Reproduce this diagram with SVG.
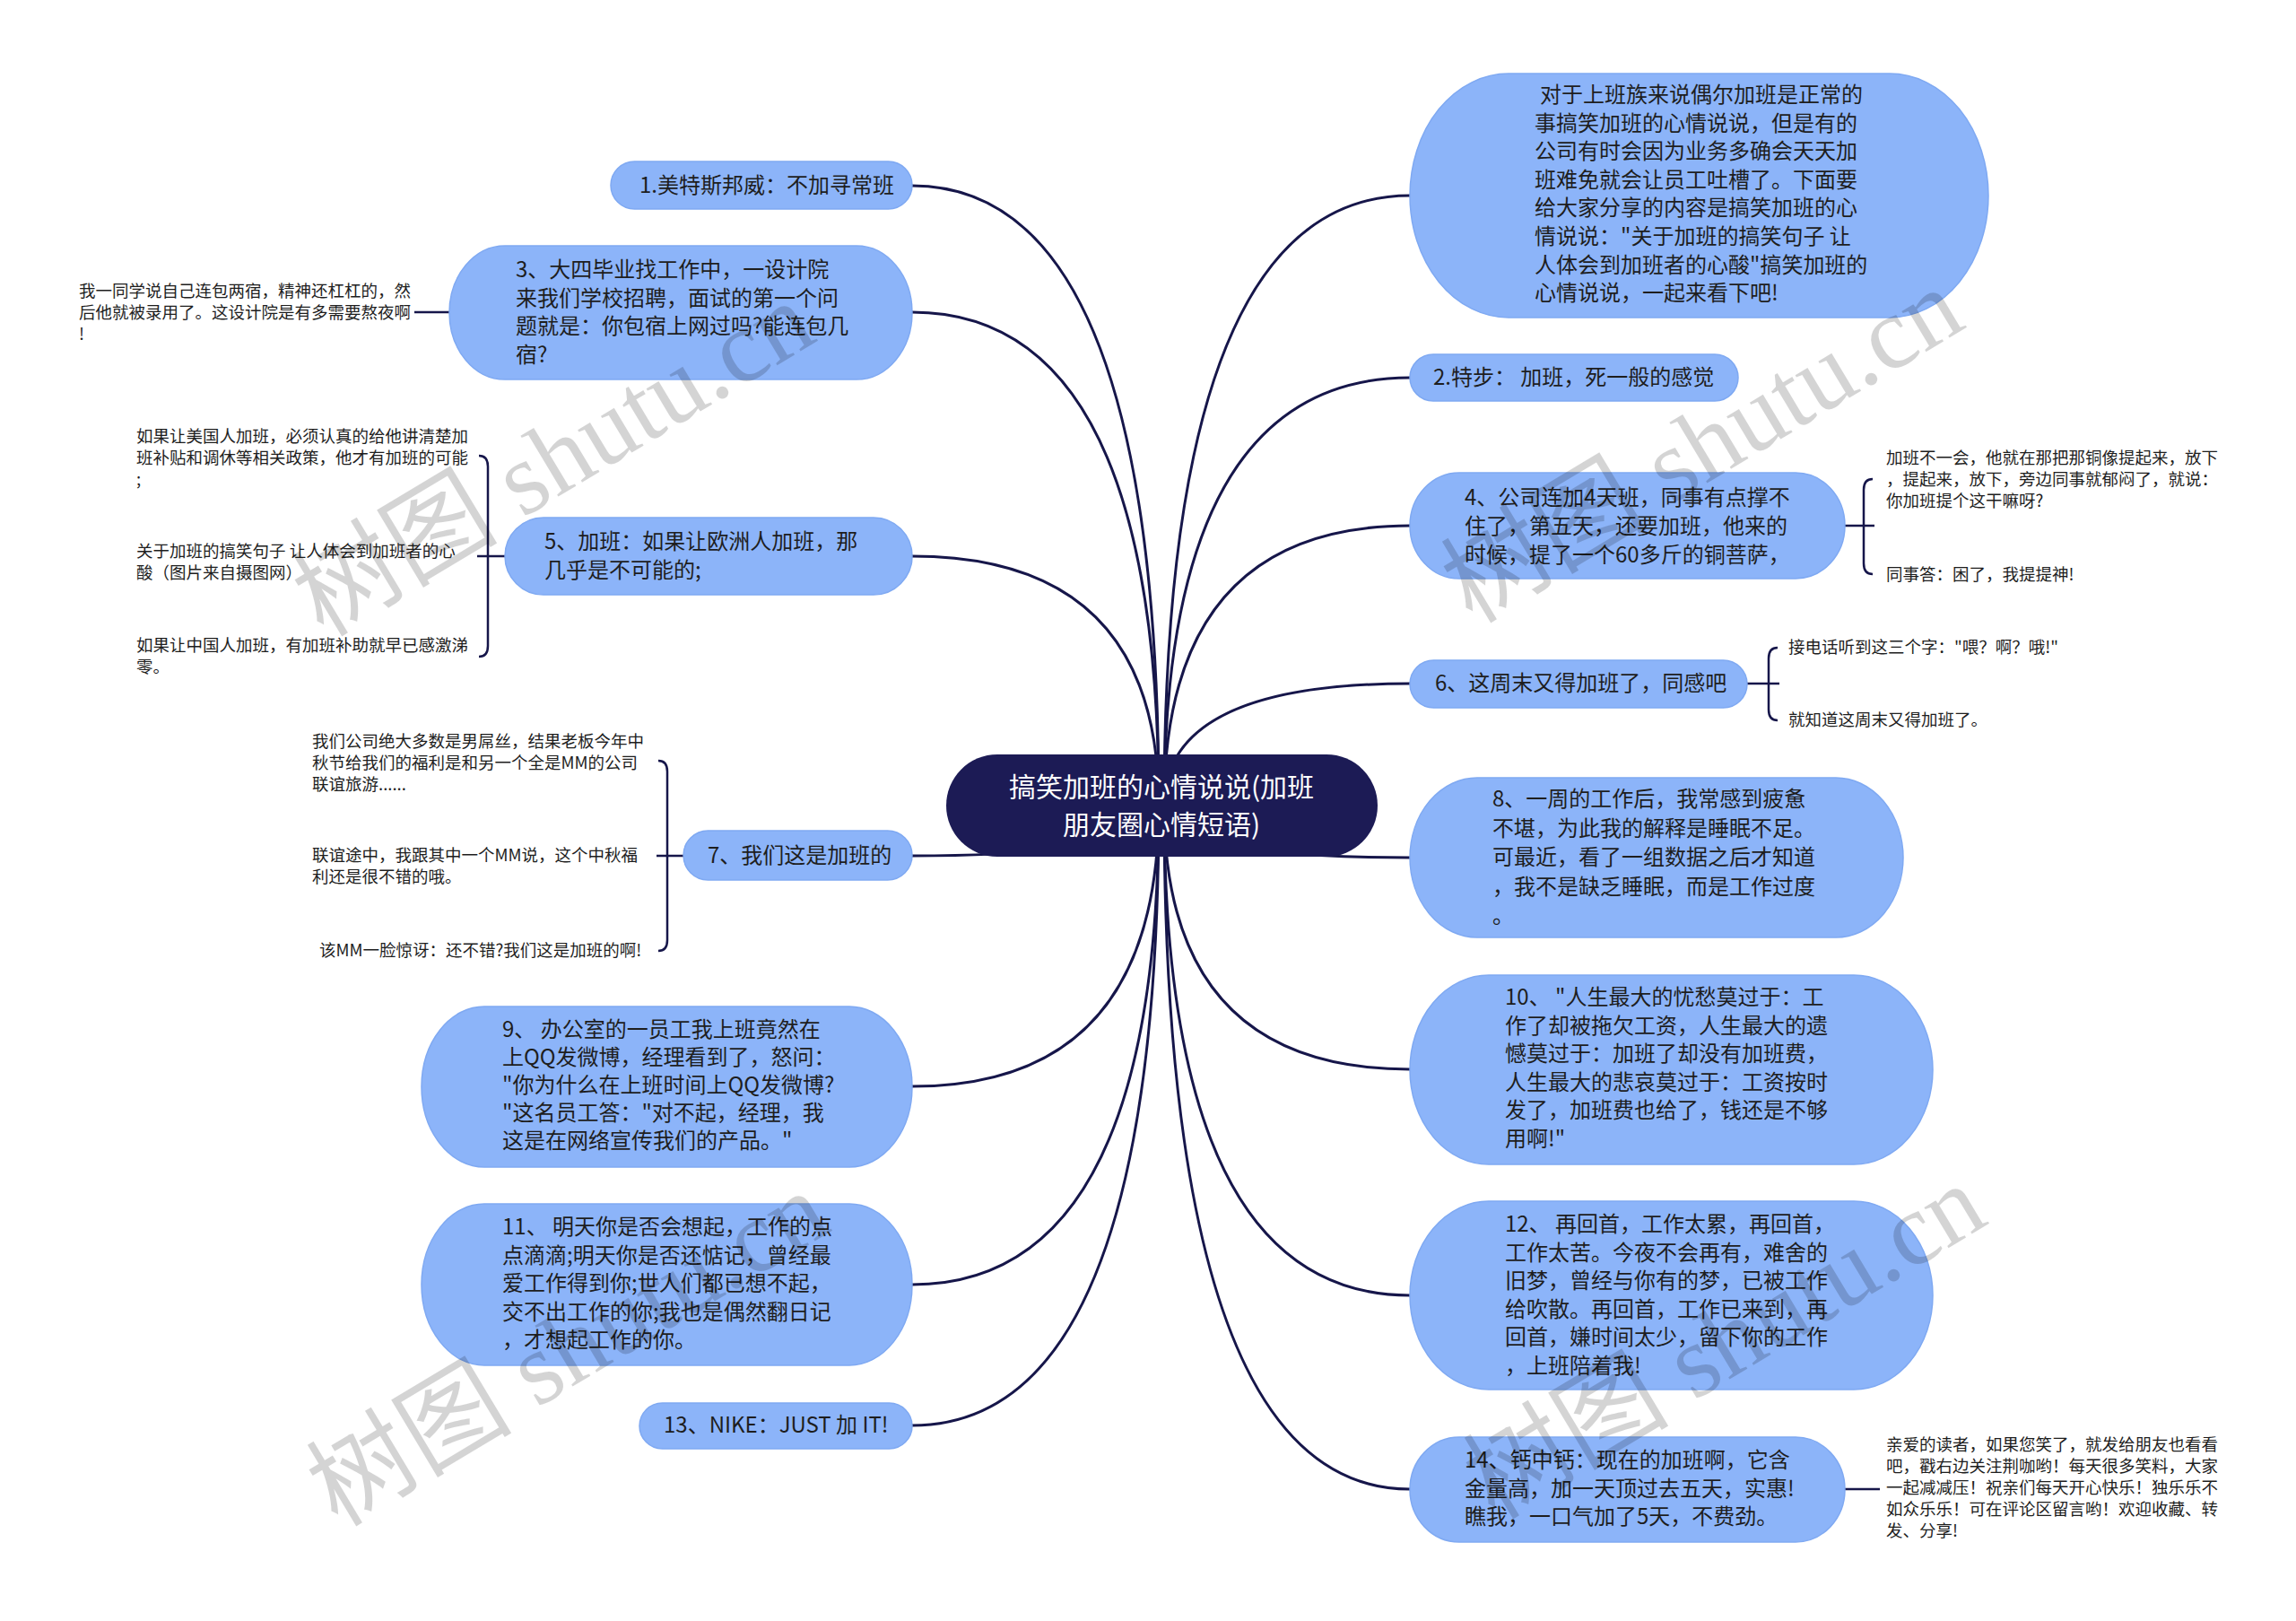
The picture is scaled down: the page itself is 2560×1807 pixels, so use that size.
<svg xmlns="http://www.w3.org/2000/svg" width="2560" height="1807" viewBox="0 0 2560 1807">
<style>
.bg{fill:#ffffff}
.node{fill:#8cb4f9;stroke:#7fa9f2;stroke-width:1.5}
.root{fill:#1c1b55}
.t{font-family:"Noto Sans CJK SC","Noto Sans",sans-serif;font-size:24px;fill:#1e1e1e}
.rt{font-family:"Noto Sans CJK SC","Noto Sans",sans-serif;font-size:30px;fill:#ffffff;text-anchor:middle}
.l{font-family:"Noto Sans CJK SC","Noto Sans",sans-serif;font-size:18.5px;fill:#1e1e1e}
.c{fill:none;stroke:#16164a;stroke-width:3}
.b{fill:none;stroke:#16164a;stroke-width:2.5}
.wm{font-family:"Liberation Serif","Noto Sans CJK SC",serif;font-size:115px;fill:#000000;fill-opacity:0.17}
</style>
<rect class="bg" x="0" y="0" width="2560" height="1807"/>

<g id="connectors">
<path class="c" d="M1292,898 Q1292,207 1017,207"/>
<path class="c" d="M1292,898 Q1292,348 1017,348"/>
<path class="c" d="M1292,898 Q1292,620 1017,620"/>
<path class="c" d="M1292,898 Q1292,954 1017,954"/>
<path class="c" d="M1292,898 Q1292,1211 1017,1211"/>
<path class="c" d="M1292,898 Q1292,1432 1017,1432"/>
<path class="c" d="M1292,898 Q1292,1589 1017,1589"/>
<path class="c" d="M1298,898 Q1298,218 1572,218"/>
<path class="c" d="M1298,898 Q1298,421 1572,421"/>
<path class="c" d="M1298,898 Q1298,586 1572,586"/>
<path class="c" d="M1298,898 Q1298,762 1572,762"/>
<path class="c" d="M1298,898 Q1298,956 1572,956"/>
<path class="c" d="M1298,898 Q1298,1192 1572,1192"/>
<path class="c" d="M1298,898 Q1298,1444 1572,1444"/>
<path class="c" d="M1298,898 Q1298,1660 1572,1660"/>
<!-- leaf connectors -->
<path class="b" d="M462,348 L501,348"/>
<path class="b" d="M534,508 Q544,508 544,520 L544,720 Q544,732 534,732"/>
<path class="b" d="M532,620 L563,620"/>
<path class="b" d="M734,848 Q744,848 744,860 L744,1048 Q744,1060 734,1060"/>
<path class="b" d="M732,954 L762,954"/>
<path class="b" d="M2088,534 Q2078,534 2078,546 L2078,628 Q2078,640 2088,640"/>
<path class="b" d="M2057,586 L2090,586"/>
<path class="b" d="M1982,722 Q1972,722 1972,734 L1972,791 Q1972,803 1982,803"/>
<path class="b" d="M1948,762 L1984,762"/>
<path class="b" d="M2057,1660 L2096,1660"/>
</g>

<g id="root">
<rect class="root" x="1055" y="841" width="481" height="114" rx="57" ry="57"/>
<text class="rt" x="1295" y="888">搞笑加班的心情说说(加班</text>
<text class="rt" x="1295" y="930">朋友圈心情短语)</text>
</g>

<g id="n1">
<rect class="node" x="681" y="180" width="336" height="53" rx="26.5"/>
<text class="t" x="713" y="215">1.美特斯邦威：不加寻常班</text>
</g>

<g id="n3">
<rect class="node" x="501" y="274" width="516" height="149" rx="62" ry="74.5"/>
<text class="t" x="575" y="309">3、大四毕业找工作中，一设计院</text>
<text class="t" x="575" y="340.6">来我们学校招聘，面试的第一个问</text>
<text class="t" x="575" y="372.2">题就是：你包宿上网过吗?能连包几</text>
<text class="t" x="575" y="403.8">宿?</text>
</g>
<g id="n3-leaf">
<text class="l" x="88" y="331">我一同学说自己连包两宿，精神还杠杠的，然</text>
<text class="l" x="88" y="355">后他就被录用了。这设计院是有多需要熬夜啊</text>
<text class="l" x="88" y="379">!</text>
</g>

<g id="n5">
<rect class="node" x="563" y="577" width="454" height="86" rx="43"/>
<text class="t" x="607" y="612">5、加班：如果让欧洲人加班，那</text>
<text class="t" x="607" y="643.6">几乎是不可能的;</text>
</g>
<g id="n5-leaves">
<text class="l" x="152" y="493">如果让美国人加班，必须认真的给他讲清楚加</text>
<text class="l" x="152" y="517">班补贴和调休等相关政策，他才有加班的可能</text>
<text class="l" x="152" y="541">;</text>
<text class="l" x="152" y="621">关于加班的搞笑句子 让人体会到加班者的心</text>
<text class="l" x="152" y="645">酸（图片来自摄图网）</text>
<text class="l" x="152" y="726">如果让中国人加班，有加班补助就早已感激涕</text>
<text class="l" x="152" y="750">零。</text>
</g>

<g id="n7">
<rect class="node" x="762" y="926" width="255" height="55" rx="27.5"/>
<text class="t" x="789" y="962">7、我们这是加班的</text>
</g>
<g id="n7-leaves">
<text class="l" x="348" y="833">我们公司绝大多数是男屌丝，结果老板今年中</text>
<text class="l" x="348" y="857">秋节给我们的福利是和另一个全是MM的公司</text>
<text class="l" x="348" y="881">联谊旅游......</text>
<text class="l" x="348" y="960">联谊途中，我跟其中一个MM说，这个中秋福</text>
<text class="l" x="348" y="984">利还是很不错的哦。</text>
<text class="l" x="356" y="1066">该MM一脸惊讶：还不错?我们这是加班的啊!</text>
</g>

<g id="n9">
<rect class="node" x="470" y="1122" width="547" height="179" rx="70" ry="89.5"/>
<text class="t" x="560" y="1156">9、 办公室的一员工我上班竟然在</text>
<text class="t" x="560" y="1187">上QQ发微博，经理看到了，怒问：</text>
<text class="t" x="560" y="1218">"你为什么在上班时间上QQ发微博?</text>
<text class="t" x="560" y="1249">"这名员工答："对不起，经理，我</text>
<text class="t" x="560" y="1280">这是在网络宣传我们的产品。"</text>
</g>

<g id="n11">
<rect class="node" x="470" y="1342" width="547" height="180" rx="70" ry="90"/>
<text class="t" x="560" y="1376">11、 明天你是否会想起，工作的点</text>
<text class="t" x="560" y="1407.5">点滴滴;明天你是否还惦记，曾经最</text>
<text class="t" x="560" y="1439">爱工作得到你;世人们都已想不起，</text>
<text class="t" x="560" y="1470.5">交不出工作的你;我也是偶然翻日记</text>
<text class="t" x="560" y="1502">，才想起工作的你。</text>
</g>

<g id="n13">
<rect class="node" x="713" y="1564" width="304" height="51" rx="25.5"/>
<text class="t" x="740" y="1597">13、NIKE：JUST 加 IT!</text>
</g>

<g id="ntop">
<rect class="node" x="1572" y="82" width="645" height="272" rx="110" ry="136"/>
<text class="t" x="1717" y="114">对于上班族来说偶尔加班是正常的</text>
<text class="t" x="1711" y="145.6">事搞笑加班的心情说说，但是有的</text>
<text class="t" x="1711" y="177.2">公司有时会因为业务多确会天天加</text>
<text class="t" x="1711" y="208.8">班难免就会让员工吐槽了。下面要</text>
<text class="t" x="1711" y="240.4">给大家分享的内容是搞笑加班的心</text>
<text class="t" x="1711" y="272">情说说："关于加班的搞笑句子 让</text>
<text class="t" x="1711" y="303.6">人体会到加班者的心酸"搞笑加班的</text>
<text class="t" x="1711" y="335.2">心情说说，一起来看下吧!</text>
</g>

<g id="n2">
<rect class="node" x="1572" y="395" width="366" height="52" rx="26"/>
<text class="t" x="1598" y="429">2.特步： 加班，死一般的感觉</text>
</g>

<g id="n4">
<rect class="node" x="1572" y="527" width="485" height="118" rx="55" ry="59"/>
<text class="t" x="1633" y="563">4、公司连加4天班，同事有点撑不</text>
<text class="t" x="1633" y="595">住了，第五天，还要加班，他来的</text>
<text class="t" x="1633" y="627">时候，提了一个60多斤的铜菩萨，</text>
</g>
<g id="n4-leaves">
<text class="l" x="2103" y="517">加班不一会，他就在那把那铜像提起来，放下</text>
<text class="l" x="2103" y="541">，提起来，放下，旁边同事就郁闷了，就说：</text>
<text class="l" x="2103" y="565">你加班提个这干嘛呀?</text>
<text class="l" x="2103" y="647">同事答：困了，我提提神!</text>
</g>

<g id="n6">
<rect class="node" x="1572" y="736" width="376" height="53" rx="26.5"/>
<text class="t" x="1600" y="770">6、这周末又得加班了，同感吧</text>
</g>
<g id="n6-leaves">
<text class="l" x="1994" y="728">接电话听到这三个字："喂？啊？哦!"</text>
<text class="l" x="1994" y="809">就知道这周末又得加班了。</text>
</g>

<g id="n8">
<rect class="node" x="1572" y="867" width="550" height="178" rx="75" ry="89"/>
<text class="t" x="1664" y="899">8、一周的工作后，我常感到疲惫</text>
<text class="t" x="1664" y="931.5">不堪，为此我的解释是睡眠不足。</text>
<text class="t" x="1664" y="964">可最近，看了一组数据之后才知道</text>
<text class="t" x="1664" y="996.5">，我不是缺乏睡眠，而是工作过度</text>
<text class="t" x="1664" y="1029">。</text>
</g>

<g id="n10">
<rect class="node" x="1572" y="1087" width="583" height="211" rx="88" ry="105.5"/>
<text class="t" x="1678" y="1120">10、 "人生最大的忧愁莫过于：工</text>
<text class="t" x="1678" y="1151.6">作了却被拖欠工资，人生最大的遗</text>
<text class="t" x="1678" y="1183.2">憾莫过于：加班了却没有加班费，</text>
<text class="t" x="1678" y="1214.8">人生最大的悲哀莫过于：工资按时</text>
<text class="t" x="1678" y="1246.4">发了，加班费也给了，钱还是不够</text>
<text class="t" x="1678" y="1278">用啊!"</text>
</g>

<g id="n12">
<rect class="node" x="1572" y="1339" width="583" height="210" rx="88" ry="105"/>
<text class="t" x="1678" y="1373">12、 再回首，工作太累，再回首，</text>
<text class="t" x="1678" y="1404.6">工作太苦。今夜不会再有，难舍的</text>
<text class="t" x="1678" y="1436.2">旧梦，曾经与你有的梦，已被工作</text>
<text class="t" x="1678" y="1467.8">给吹散。再回首，工作已来到，再</text>
<text class="t" x="1678" y="1499.4">回首，嫌时间太少，留下你的工作</text>
<text class="t" x="1678" y="1531">，上班陪着我!</text>
</g>

<g id="n14">
<rect class="node" x="1572" y="1602" width="485" height="117" rx="55" ry="58.5"/>
<text class="t" x="1633" y="1636">14、钙中钙：现在的加班啊，它含</text>
<text class="t" x="1633" y="1667.5">金量高，加一天顶过去五天，实惠!</text>
<text class="t" x="1633" y="1699">瞧我，一口气加了5天，不费劲。</text>
</g>
<g id="n14-leaf">
<text class="l" x="2103" y="1617">亲爱的读者，如果您笑了，就发给朋友也看看</text>
<text class="l" x="2103" y="1641">吧，戳右边关注荆咖哟！每天很多笑料，大家</text>
<text class="l" x="2103" y="1665">一起减减压！祝亲们每天开心快乐！独乐乐不</text>
<text class="l" x="2103" y="1689">如众乐乐！可在评论区留言哟！欢迎收藏、转</text>
<text class="l" x="2103" y="1713">发、分享!</text>
</g>

<g id="watermarks">
<text class="wm" text-anchor="middle" transform="translate(637,545) rotate(-31)">树图 shutu.cn</text>
<text class="wm" text-anchor="middle" transform="translate(1918,530) rotate(-31)">树图 shutu.cn</text>
<text class="wm" text-anchor="middle" transform="translate(653,1537) rotate(-31)">树图 shutu.cn</text>
<text class="wm" text-anchor="middle" transform="translate(1943,1529) rotate(-31)">树图 shutu.cn</text>
</g>
</svg>
